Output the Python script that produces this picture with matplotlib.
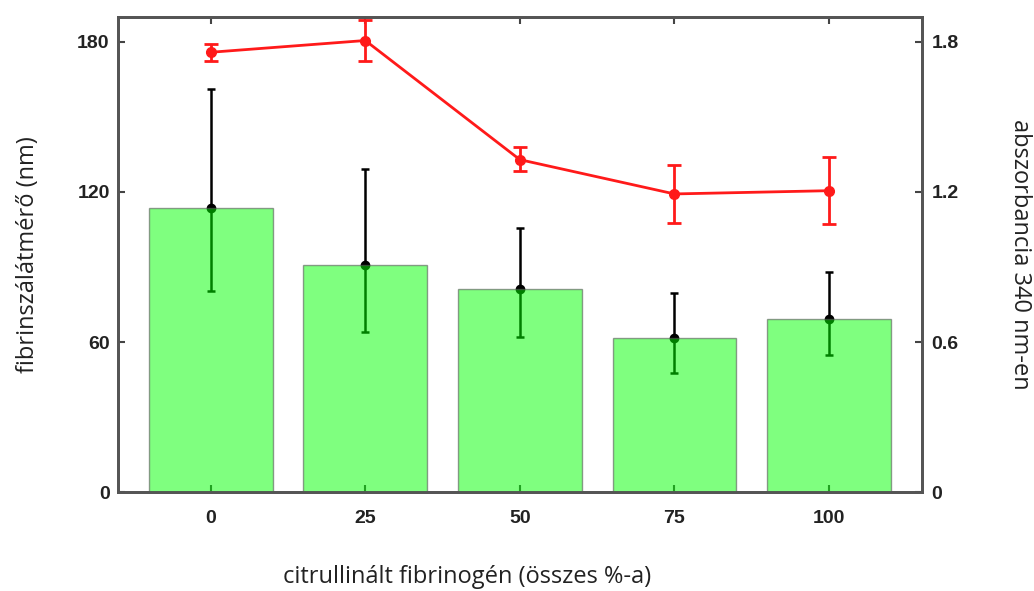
import numpy as np
import matplotlib.pyplot as plt

# citrullinated fibrinogen share (% of total)
levels = ['0', '25', '50', '75', '100']

# fibre diameter (nm): mean with lower / upper error limits
diam = [113.6, 90.9, 81.2, 61.6, 69.4]
diam_lo = [80.6, 64.0, 62.2, 47.8, 54.9]
diam_hi = [161.2, 129.3, 105.6, 79.5, 88.1]

# absorbance at 340 nm with lower / upper error limits
absorb = [1.758, 1.805, 1.329, 1.192, 1.205]
abs_lo = [1.725, 1.722, 1.285, 1.076, 1.073]
abs_hi = [1.792, 1.886, 1.378, 1.306, 1.340]

x = np.arange(len(levels))
diam = np.array(diam)
absorb = np.array(absorb)
d_err = [diam - np.array(diam_lo), np.array(diam_hi) - diam]
a_err = [absorb - np.array(abs_lo), np.array(abs_hi) - absorb]

plt.rcParams['font.family'] = 'Liberation Sans'
fig = plt.figure(figsize=(10.34, 5.91), dpi=100)
ax = fig.add_axes([0.1141, 0.167, 0.7773, 0.8047])

# error bars first, then translucent bars on top of them
ax.errorbar(x, diam, yerr=d_err, fmt='o', color='black', ms=6,
            elinewidth=1.8, capsize=3, capthick=1.8, zorder=2)
ax.bar(x, diam, width=0.8, color=(0, 1, 0, 0.5),
       edgecolor=(0.35, 0.35, 0.35, 0.6), linewidth=1, zorder=3)

ax.set_xlim(-0.6, 4.6)
ax.set_ylim(0, 190)
ax.set_xticks(x)
ax.set_xticklabels(levels)
ax.set_yticks([0, 60, 120, 180])
ax.tick_params(axis='x', direction='in', length=5, width=1.5, pad=13,
               top=True, labelsize=14, color='#444444')
ax.tick_params(axis='y', direction='in', length=5, width=1.5, pad=6,
               labelsize=14, color='#444444')
for lab in ax.get_xticklabels() + ax.get_yticklabels():
    lab.set_fontweight('bold')
    lab.set_color('#222222')

ax2 = ax.twinx()
ax2.errorbar(x, absorb, yerr=a_err, fmt='-o', color='#ff1a1a', ms=7,
             lw=2, elinewidth=2, capsize=5, capthick=2, zorder=5)
ax2.set_ylim(0, 1.90)
ax2.set_yticks([0, 0.6, 1.2, 1.8])
ax2.set_yticklabels(['0', '0.6', '1.2', '1.8'])
ax2.tick_params(axis='y', direction='in', length=5, width=1.5, pad=7,
                labelsize=14, color='#444444')
for lab in ax2.get_yticklabels():
    lab.set_fontweight('bold')
    lab.set_color('#222222')

for a in (ax, ax2):
    for s in a.spines.values():
        s.set_color('#555555')
        s.set_linewidth(2)

lab_font = dict(fontsize=17, color='#222222', family='Open Sans')
fig.text(467 / 1034, 1 - 577 / 591, 'citrullinált fibrinogén (összes %-a)',
         ha='center', va='center', **lab_font)
fig.text(28 / 1034, 1 - 255 / 591, 'fibrinszálátmérő (nm)', rotation=90,
         ha='center', va='center', **lab_font)
fig.text(1020 / 1034, 1 - 254 / 591, 'abszorbancia 340 nm-en', rotation=270,
         ha='center', va='center', **lab_font)

fig.savefig('out.png', dpi=100)
